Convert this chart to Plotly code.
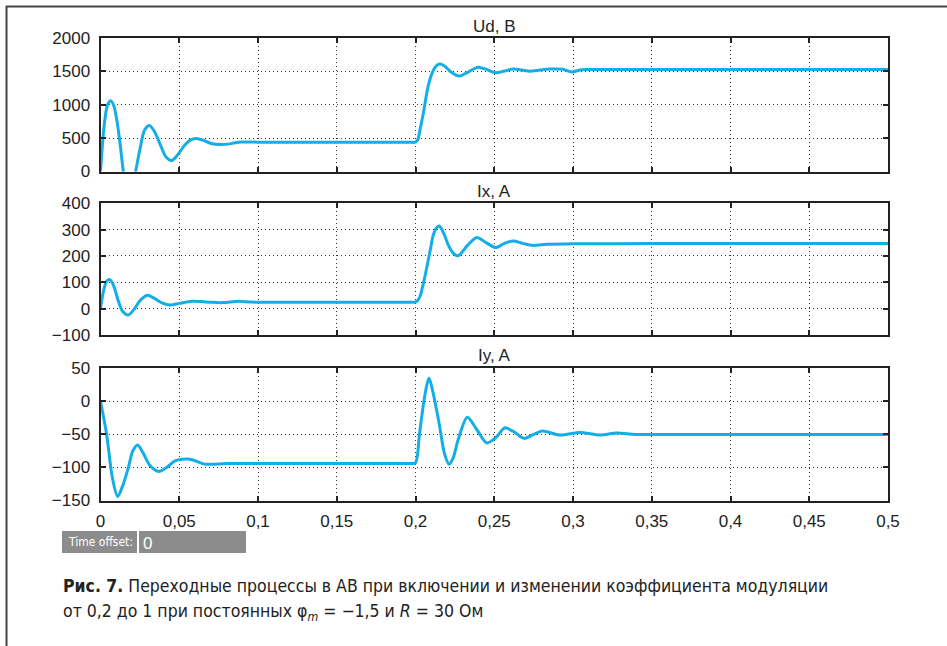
import plotly.graph_objects as go

W, H = 947, 646

# ---------------- data ----------------
t_ud = [0, 0.0015, 0.003, 0.0045, 0.0065, 0.0085, 0.0105, 0.0125, 0.0145, 0.0165, 0.0185,
        0.0205, 0.0223, 0.025, 0.028, 0.031, 0.034, 0.038, 0.0415, 0.0452, 0.049, 0.053,
        0.057, 0.061, 0.066, 0.071, 0.076, 0.081, 0.0855, 0.0897, 0.1, 0.13, 0.16, 0.19,
        0.197, 0.2, 0.2015, 0.2028, 0.205, 0.208, 0.211, 0.2135, 0.2156, 0.219, 0.2225,
        0.2278, 0.2335, 0.2393, 0.245, 0.2509, 0.2565, 0.2621, 0.2675, 0.2727, 0.279,
        0.2854, 0.2935, 0.2992, 0.3055, 0.315, 0.35, 0.4, 0.45, 0.5]
ud = [0, 480, 820, 1000, 1060, 980, 750, 405, 0, -250, -330,
      -200, 0, 330, 620, 690, 610, 400, 220, 165, 250, 380,
      470, 495, 460, 415, 405, 410, 430, 442, 440, 438, 437, 437,
      437, 440, 480, 620, 875, 1275, 1500, 1590, 1610, 1570, 1490,
      1430, 1490, 1560, 1530, 1478, 1505, 1535, 1520, 1500, 1520,
      1535, 1532, 1492, 1525, 1527, 1527, 1527, 1527, 1527]

t_ix = [0, 0.002, 0.004, 0.006, 0.0085, 0.011, 0.014, 0.0177, 0.021, 0.025, 0.0297, 0.034,
        0.039, 0.0441, 0.05, 0.058, 0.064, 0.0706, 0.078, 0.0875, 0.096, 0.12, 0.15, 0.18,
        0.195, 0.1998, 0.2015, 0.2029, 0.206, 0.2092, 0.2113, 0.2135, 0.2151, 0.218, 0.2208,
        0.224, 0.2272, 0.233, 0.2389, 0.245, 0.2509, 0.2565, 0.2621, 0.268, 0.2748, 0.2833,
        0.3, 0.35, 0.4, 0.45, 0.5]
ix = [0, 70, 105, 110, 85, 35, -10, -24, -5, 30, 51, 40,
      22, 14, 20, 28, 27, 24, 23, 28, 25, 24, 24, 24,
      24, 25, 32, 47, 123, 217, 280, 308, 314, 285, 242,
      210, 201, 240, 270, 250, 232, 248, 257, 248, 240, 245,
      246, 247, 247, 247, 247]

t_iy = [0, 0.0039, 0.0075, 0.0109, 0.0145, 0.0177, 0.0205, 0.0236, 0.027, 0.0314, 0.0371,
        0.042, 0.0473, 0.0568, 0.0663, 0.08, 0.1, 0.125, 0.15, 0.175, 0.19, 0.197, 0.2,
        0.2025, 0.205, 0.2072, 0.2086, 0.2105, 0.2149, 0.2185, 0.2213, 0.224, 0.2272, 0.2329,
        0.239, 0.2452, 0.251, 0.2568, 0.263, 0.2689, 0.275, 0.2805, 0.2917, 0.3044, 0.3171,
        0.3277, 0.34, 0.37, 0.4, 0.45, 0.5]
iy = [0, -50, -115, -144, -125, -100, -75, -66, -78, -97, -106,
      -100, -90, -87.5, -95, -94, -94, -94, -94, -94, -94, -94, -93,
      -50, -5, 25, 35, 20, -32, -80, -95, -85, -57, -24,
      -43, -63, -55, -40, -47, -56, -50, -45, -51, -47, -51,
      -48, -50, -50, -50, -50, -50]

titles = ["Ud, B", "Ix, A", "Iy, A"]
x_tickvals = [0, 0.05, 0.1, 0.15, 0.2, 0.25, 0.3, 0.35, 0.4, 0.45, 0.5]
x_ticktext = ["0", "0,05", "0,1", "0,15", "0,2", "0,25", "0,3", "0,35", "0,4", "0,45", "0,5"]
y1_ticks = [0, 500, 1000, 1500, 2000]
y2_ticks = [-100, 0, 100, 200, 300, 400]
y3_ticks = [-150, -100, -50, 0, 50]
caption_bold = "Рис. 7."
caption_1 = " Переходные процессы в АВ при включении и изменении коэффициента модуляции"
caption_2 = "от 0,2 до 1 при постоянных φ<sub><i>m</i></sub> = −1,5 и <i>R</i> = 30 Ом"

# ---------------- layout helpers ----------------
def px_x(p):
    return p / W

def px_y(p):
    return 1 - p / H

LINE = "#13aee8"
FONT = "Liberation Sans"
CAPFONT = "DejaVu Sans Condensed"
x_dom = [px_x(100.5), px_x(888)]
y_doms = [[px_y(171.5), px_y(38)], [px_y(335), px_y(203.3)], [px_y(500.5), px_y(368.3)]]

fig = go.Figure()
series = [(t_ud, ud), (t_ix, ix), (t_iy, iy)]
for i, (tx, vy) in enumerate(series):
    sfx = "" if i == 0 else str(i + 1)
    fig.add_trace(go.Scatter(x=tx, y=vy, mode="lines", xaxis="x" + sfx, yaxis="y" + sfx,
                             line=dict(color=LINE, width=3, shape="spline", smoothing=0.8),
                             showlegend=False, hoverinfo="skip"))

axis_common = dict(showline=True, mirror="ticks", linecolor="#222", linewidth=2,
                   ticks="inside", ticklen=5, tickwidth=1.5, tickcolor="#222",
                   showgrid=True, gridcolor="#333", gridwidth=1, griddash="1px,3px",
                   zeroline=False, automargin=False,
                   tickfont=dict(family=FONT, size=17, color="#222"))

layout = dict(width=W, height=H, margin=dict(l=0, r=0, t=0, b=0, pad=0, autoexpand=False),
              autosize=False, paper_bgcolor="white", plot_bgcolor="white", showlegend=False)

yticks = [y1_ticks, y2_ticks, y3_ticks]
for i in range(3):
    sfx = "" if i == 0 else str(i + 1)
    xa = dict(axis_common, domain=x_dom, range=[0, 0.5], tickvals=x_tickvals,
              ticktext=x_ticktext, anchor="y" + sfx, showticklabels=(i == 2),
              ticklabelstandoff=4)
    ya = dict(axis_common, domain=y_doms[i], range=[yticks[i][0], yticks[i][-1]],
              tickvals=yticks[i], ticktext=[str(v).replace("-", "−") for v in yticks[i]],
              anchor="x" + sfx, ticklabelstandoff=5)
    layout["xaxis" + sfx] = xa
    layout["yaxis" + sfx] = ya

fig.update_layout(**layout)

annotations = []
title_y = [26, 191, 355]
for i in range(3):
    annotations.append(dict(text=titles[i], x=px_x(494), y=px_y(title_y[i]), xref="paper",
                            yref="paper", xanchor="center", yanchor="middle", showarrow=False,
                            font=dict(family=FONT, size=17, color="#222")))

annotations.append(dict(text="Time offset:", x=px_x(66), y=px_y(542), xref="paper", yref="paper",
                        xanchor="left", yanchor="middle", showarrow=False,
                        font=dict(family=CAPFONT, size=12, color="white")))
annotations.append(dict(text="0", x=px_x(141), y=px_y(543), xref="paper", yref="paper",
                        xanchor="left", yanchor="middle", showarrow=False,
                        font=dict(family=FONT, size=17, color="white")))

annotations.append(dict(text="<b>" + caption_bold + "</b>" + caption_1, x=px_x(61), y=px_y(586),
                        xref="paper", yref="paper", xanchor="left", yanchor="middle",
                        showarrow=False, font=dict(family=CAPFONT, size=17.5, color="#222")))
annotations.append(dict(text=caption_2, x=px_x(61), y=px_y(612),
                        xref="paper", yref="paper", xanchor="left", yanchor="middle",
                        showarrow=False, font=dict(family=CAPFONT, size=17.5, color="#222")))

shapes = [
    dict(type="line", xref="paper", yref="paper", x0=px_x(6), x1=1.0, y0=px_y(6.5), y1=px_y(6.5),
         line=dict(color="#444", width=2)),
    dict(type="line", xref="paper", yref="paper", x0=px_x(6.5), x1=px_x(6.5), y0=px_y(6), y1=0,
         line=dict(color="#444", width=2)),
    dict(type="rect", xref="paper", yref="paper", x0=px_x(62), x1=px_x(137), y0=px_y(553),
         y1=px_y(531), fillcolor="#8c8c8c", line=dict(width=0)),
    dict(type="rect", xref="paper", yref="paper", x0=px_x(139), x1=px_x(246), y0=px_y(553),
         y1=px_y(531), fillcolor="#8c8c8c", line=dict(width=0)),
]

fig.update_layout(annotations=annotations, shapes=shapes)
fig.write_html("out.html")
